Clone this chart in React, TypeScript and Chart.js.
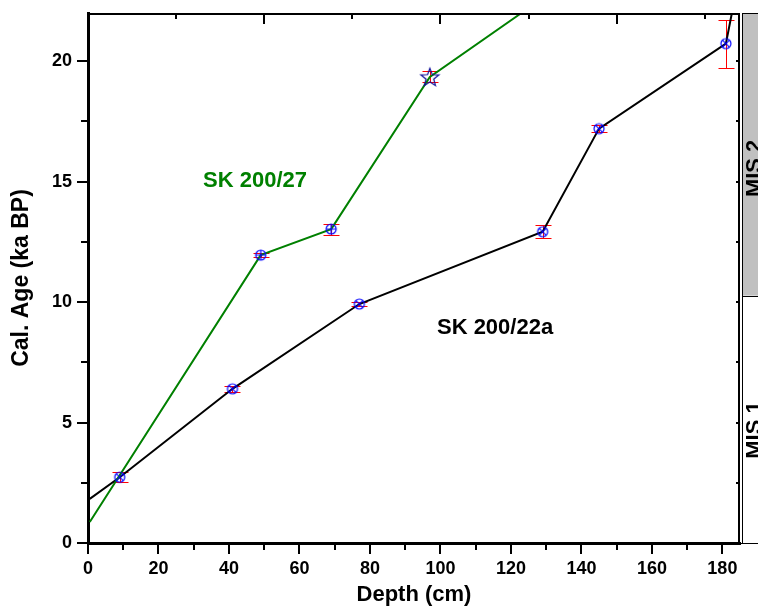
import React, { useEffect, useRef } from 'react';
import { Chart, registerables } from 'chart.js';

Chart.register(...registerables);

// ---- data (depth in cm, calibrated age in ka BP) ----
const blackLineDepth = [0.5, 9, 41, 77, 129, 145, 181, 182.7];
const blackLineAge = [1.83, 2.73, 6.4, 9.92, 12.92, 17.2, 20.73, 22.0];
const greenLineDepth = [0.5, 49, 69, 97, 123];
const greenLineAge = [0.87, 11.95, 13.03, 19.35, 22.0];

const blackPtDepth = [9, 41, 77, 129, 145, 181];
const blackPtAge = [2.73, 6.4, 9.92, 12.92, 17.2, 20.73];
const blackPtErr = [0.2, 0.12, 0.1, 0.26, 0.16, 1.0];

const greenPtDepth = [49, 69];
const greenPtAge = [11.95, 13.03];
const greenPtErr = [0.08, 0.23];

const starDepth = [97];
const starAge = [19.35];
const starErr = [0.23];

const xMajorTicks = [0, 20, 40, 60, 80, 100, 120, 140, 160, 180];
const xMinorTicks = [10, 30, 50, 70, 90, 110, 130, 150, 170];
const yMajorTicks = [0, 5, 10, 15, 20];
const yMinorTicks = [2.5, 7.5, 12.5, 17.5];
const topMajorTicks = [50, 100, 150];
const topMinorTicks = [25, 75, 125, 175];
const rightTicks = [2.5, 5, 7.5, 10, 12.5, 15, 17.5, 20];

const misBoundaryAge = 10.27;
const mis2LabelAge = 15.55;
const mis1LabelAge = 4.69;

const seriesLabels = [
  { text: 'SK 200/27', depth: 47.4, age: 15.02, color: '#008000' },
  { text: 'SK 200/22a', depth: 115.5, age: 8.92, color: '#000000' },
];

const FONT = "'Liberation Sans', Arial, sans-serif";

function toXY(xs: number[], ys: number[]) {
  return xs.map((x, i) => ({ x, y: ys[i] }));
}

function makeMarker(kind: 'x' | '+' | 'star'): HTMLCanvasElement {
  const s = 22;
  const c = document.createElement('canvas');
  c.width = s;
  c.height = s;
  const g = c.getContext('2d')!;
  const m = s / 2;
  g.lineWidth = 1.2;
  if (kind === 'star') {
    g.strokeStyle = '#10109a';
    const R = 9.5;
    const r = 4;
    g.beginPath();
    for (let i = 0; i < 10; i++) {
      const a = -Math.PI / 2 + (i * Math.PI) / 5;
      const rr = i % 2 === 0 ? R : r;
      const px = m + rr * Math.cos(a);
      const py = m + 1 + rr * Math.sin(a);
      if (i === 0) g.moveTo(px, py);
      else g.lineTo(px, py);
    }
    g.closePath();
    g.stroke();
    return c;
  }
  g.strokeStyle = '#0000ff';
  const r = 5;
  g.beginPath();
  g.arc(m, m, r, 0, Math.PI * 2);
  g.stroke();
  g.beginPath();
  if (kind === 'x') {
    const d = r * 0.72;
    g.moveTo(m - d, m - d);
    g.lineTo(m + d, m + d);
    g.moveTo(m + d, m - d);
    g.lineTo(m - d, m + d);
  } else {
    g.moveTo(m - r, m);
    g.lineTo(m + r, m);
    g.moveTo(m, m - r);
    g.lineTo(m, m + r);
  }
  g.stroke();
  return c;
}

const errorSets = [
  { d: blackPtDepth, a: blackPtAge, e: blackPtErr },
  { d: greenPtDepth, a: greenPtAge, e: greenPtErr },
  { d: starDepth, a: starAge, e: starErr },
];

const decorPlugin = {
  id: 'decor',
  beforeDatasetsDraw(chart: any) {
    const { ctx, scales } = chart;
    const xs = scales.x;
    const ys = scales.y;
    ctx.save();
    ctx.strokeStyle = '#ff0000';
    ctx.lineWidth = 1;
    const cap = 8;
    errorSets.forEach((set) => {
      set.d.forEach((dv, i) => {
        const px = Math.round(xs.getPixelForValue(dv)) + 0.5;
        const yTop = Math.round(ys.getPixelForValue(set.a[i] + set.e[i])) + 0.5;
        const yBot = Math.round(ys.getPixelForValue(set.a[i] - set.e[i])) + 0.5;
        ctx.beginPath();
        ctx.moveTo(px, yTop);
        ctx.lineTo(px, yBot);
        ctx.moveTo(px - cap, yTop);
        ctx.lineTo(px + cap, yTop);
        ctx.moveTo(px - cap, yBot);
        ctx.lineTo(px + cap, yBot);
        ctx.stroke();
      });
    });
    ctx.restore();
  },
  afterDraw(chart: any) {
    const { ctx, scales, chartArea } = chart;
    const xs = scales.x;
    const ys = scales.y;
    const { left, right, top, bottom } = chartArea;
    const W = chart.width;
    ctx.save();

    // MIS panel
    const px0 = right + 2;
    const yb = ys.getPixelForValue(misBoundaryAge);
    ctx.fillStyle = '#c0c0c0';
    ctx.fillRect(px0, top, W - px0 + 2, yb - top);
    ctx.strokeStyle = '#000';
    ctx.lineWidth = 1;
    ctx.beginPath();
    ctx.moveTo(px0 + 0.5, top);
    ctx.lineTo(px0 + 0.5, bottom);
    ctx.moveTo(px0, top + 0.5);
    ctx.lineTo(W, top + 0.5);
    ctx.moveTo(px0, Math.round(yb) + 0.5);
    ctx.lineTo(W, Math.round(yb) + 0.5);
    ctx.moveTo(right, bottom + 0.5);
    ctx.lineTo(W, bottom + 0.5);
    ctx.stroke();

    ctx.fillStyle = '#000';
    ctx.font = `bold 22px ${FONT}`;
    ctx.textAlign = 'center';
    ctx.textBaseline = 'middle';
    [
      { t: 'MIS 2', a: mis2LabelAge },
      { t: 'MIS 1', a: mis1LabelAge },
    ].forEach((m) => {
      ctx.save();
      ctx.translate(right + 15, ys.getPixelForValue(m.a));
      ctx.rotate(-Math.PI / 2);
      ctx.fillText(m.t, 0, 0);
      ctx.restore();
    });

    // frame top & right
    ctx.lineWidth = 2;
    ctx.beginPath();
    ctx.moveTo(left, top + 1);
    ctx.lineTo(right, top + 1);
    ctx.moveTo(right - 1, top);
    ctx.lineTo(right - 1, bottom);
    ctx.stroke();

    // bottom ticks (outward)
    ctx.lineWidth = 2;
    ctx.beginPath();
    xMajorTicks.forEach((v) => {
      const p = Math.round(xs.getPixelForValue(v));
      ctx.moveTo(p, bottom);
      ctx.lineTo(p, bottom + 11);
    });
    xMinorTicks.forEach((v) => {
      const p = Math.round(xs.getPixelForValue(v));
      ctx.moveTo(p, bottom);
      ctx.lineTo(p, bottom + 7);
    });
    // left ticks (outward)
    yMajorTicks.forEach((v) => {
      const p = Math.round(ys.getPixelForValue(v));
      ctx.moveTo(left, p);
      ctx.lineTo(left - 11, p);
    });
    yMinorTicks.forEach((v) => {
      const p = Math.round(ys.getPixelForValue(v));
      ctx.moveTo(left, p);
      ctx.lineTo(left - 7, p);
    });
    // top ticks (inward)
    topMajorTicks.forEach((v) => {
      const p = Math.round(xs.getPixelForValue(v));
      ctx.moveTo(p, top);
      ctx.lineTo(p, top + 11);
    });
    topMinorTicks.forEach((v) => {
      const p = Math.round(xs.getPixelForValue(v));
      ctx.moveTo(p, top);
      ctx.lineTo(p, top + 6);
    });
    // right ticks (inward, tiny)
    rightTicks.forEach((v) => {
      const p = Math.round(ys.getPixelForValue(v));
      ctx.moveTo(right, p);
      ctx.lineTo(right - 4, p);
    });
    ctx.stroke();

    // series labels
    ctx.font = `bold 22px ${FONT}`;
    ctx.textAlign = 'center';
    ctx.textBaseline = 'middle';
    seriesLabels.forEach((l) => {
      ctx.fillStyle = l.color;
      ctx.fillText(l.text, xs.getPixelForValue(l.depth), ys.getPixelForValue(l.age));
    });

    ctx.restore();
  },
};

export default function App() {
  const ref = useRef<HTMLCanvasElement | null>(null);

  useEffect(() => {
    if (!ref.current) return;
    const circX = makeMarker('x');
    const circPlus = makeMarker('+');
    const star = makeMarker('star');

    const chart = new Chart(ref.current, {
      type: 'scatter',
      data: {
        datasets: [
          {
            label: 'SK 200/22a dates',
            data: toXY(blackPtDepth, blackPtAge),
            pointStyle: circX as any,
            showLine: false,
          },
          {
            label: 'SK 200/27 dates',
            data: toXY(greenPtDepth, greenPtAge),
            pointStyle: circPlus as any,
            showLine: false,
          },
          {
            label: 'SK 200/27 star',
            data: toXY(starDepth, starAge),
            pointStyle: star as any,
            showLine: false,
          },
          {
            label: 'SK 200/27',
            data: toXY(greenLineDepth, greenLineAge),
            showLine: true,
            borderColor: '#008000',
            borderWidth: 2,
            pointRadius: 0,
            tension: 0,
          },
          {
            label: 'SK 200/22a',
            data: toXY(blackLineDepth, blackLineAge),
            showLine: true,
            borderColor: '#000000',
            borderWidth: 2,
            pointRadius: 0,
            tension: 0,
          },
        ],
      },
      options: {
        animation: false,
        responsive: false,
        devicePixelRatio: 1,
        layout: { padding: { top: 13, right: 18, left: 0, bottom: 0 } },
        plugins: {
          legend: { display: false },
          tooltip: { enabled: false },
        },
        scales: {
          x: {
            type: 'linear',
            min: 0,
            max: 185,
            afterBuildTicks: (s: any) => {
              s.ticks = xMajorTicks.map((v) => ({ value: v }));
            },
            afterFit: (s: any) => {
              s.height = 66;
              s.paddingLeft = 0;
              s.paddingRight = 0;
            },
            grid: {
              display: true,
              drawOnChartArea: false,
              drawTicks: true,
              tickLength: 10,
              tickColor: 'rgba(0,0,0,0)',
            },
            border: { display: true, color: '#000', width: 3 },
            ticks: {
              padding: 5,
              color: '#000',
              maxRotation: 0,
              autoSkip: false,
              font: { family: FONT, size: 18, weight: 'bold' },
              callback: (v: any) => String(v),
            },
            title: {
              display: true,
              text: 'Depth (cm)',
              color: '#000',
              font: { family: FONT, size: 22, weight: 'bold' },
              padding: { top: 0, bottom: 1 },
            },
          },
          y: {
            type: 'linear',
            min: 0,
            max: 22,
            afterBuildTicks: (s: any) => {
              s.ticks = yMajorTicks.map((v) => ({ value: v }));
            },
            afterFit: (s: any) => {
              s.width = 88;
              s.paddingTop = 0;
              s.paddingBottom = 0;
            },
            grid: {
              display: true,
              drawOnChartArea: false,
              drawTicks: true,
              tickLength: 10,
              tickColor: 'rgba(0,0,0,0)',
            },
            border: { display: true, color: '#000', width: 3 },
            ticks: {
              padding: 6,
              color: '#000',
              autoSkip: false,
              font: { family: FONT, size: 18, weight: 'bold' },
              callback: (v: any) => String(v),
            },
            title: {
              display: true,
              text: 'Cal. Age (ka BP)',
              color: '#000',
              font: { family: FONT, size: 23, weight: 'bold' },
              padding: { top: 8, bottom: 0 },
            },
          },
        },
      },
      plugins: [decorPlugin],
    } as any);

    return () => chart.destroy();
  }, []);

  return (
    <div style={{ position: 'fixed', left: 0, top: 0, width: 758, height: 609, background: '#fff' }}>
      <canvas ref={ref} width={758} height={609} style={{ display: 'block' }} />
    </div>
  );
}
